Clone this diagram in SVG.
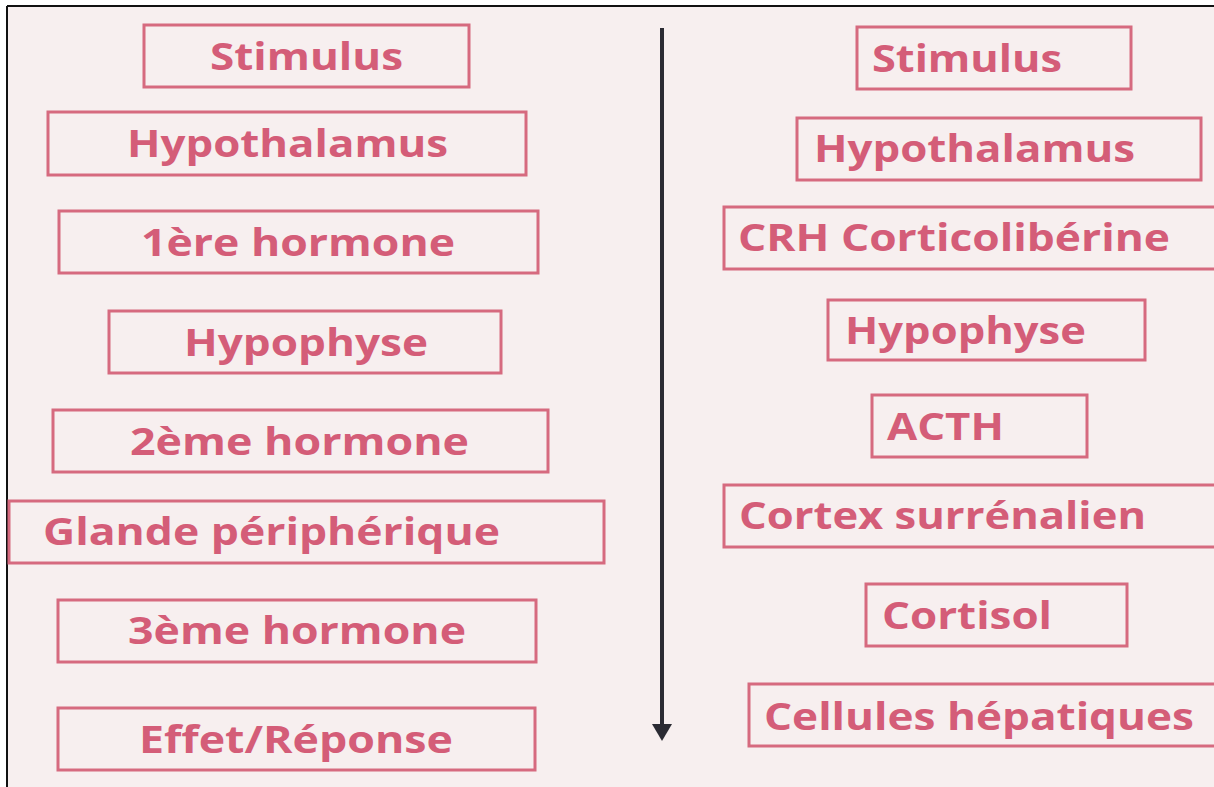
<svg xmlns="http://www.w3.org/2000/svg" width="1214" height="787" viewBox="0 0 1214 787">
<style>
.box{fill:none;stroke:#d66a7f;stroke-width:3}
.t{font-family:"Open Sans",Lato,"Liberation Sans",sans-serif;font-weight:700;font-size:37px;fill:#d45d78}
</style>
<rect x="0" y="0" width="1214" height="787" fill="#ffffff"/>
<rect x="7" y="6" width="1207" height="781" fill="#f7efef"/>
<line x1="7" y1="6" x2="7" y2="787" stroke="#111" stroke-width="2"/>
<line x1="7" y1="6" x2="1214" y2="6" stroke="#111" stroke-width="2"/>
<g id="connectors">
<line x1="662" y1="28" x2="662" y2="727" stroke="#2b2b33" stroke-width="4"/>
<polygon points="652,724 672,724 662,741" fill="#2b2b33"/>
</g>
<g id="l1"><rect class="box" x="144" y="25" width="325" height="62"/><text class="t" x="210" y="70" textLength="193" lengthAdjust="spacingAndGlyphs">Stimulus</text></g>
<g id="l2"><rect class="box" x="48" y="112" width="478" height="63"/><text class="t" x="127" y="157" textLength="321" lengthAdjust="spacingAndGlyphs">Hypothalamus</text></g>
<g id="l3"><rect class="box" x="59" y="211" width="479" height="62"/><text class="t" x="141" y="256" textLength="314" lengthAdjust="spacingAndGlyphs">1ère hormone</text></g>
<g id="l4"><rect class="box" x="109" y="311" width="392" height="62"/><text class="t" x="184" y="356" textLength="244" lengthAdjust="spacingAndGlyphs">Hypophyse</text></g>
<g id="l5"><rect class="box" x="53" y="410" width="495" height="62"/><text class="t" x="130" y="455" textLength="339" lengthAdjust="spacingAndGlyphs">2ème hormone</text></g>
<g id="l6"><rect class="box" x="9" y="501" width="595" height="62"/><text class="t" x="43" y="545" textLength="457" lengthAdjust="spacingAndGlyphs">Glande périphérique</text></g>
<g id="l7"><rect class="box" x="58" y="600" width="478" height="62"/><text class="t" x="128" y="644" textLength="338" lengthAdjust="spacingAndGlyphs">3ème hormone</text></g>
<g id="l8"><rect class="box" x="58" y="708" width="477" height="62"/><text class="t" x="139" y="753" textLength="314" lengthAdjust="spacingAndGlyphs">Effet/Réponse</text></g>
<g id="r1"><rect class="box" x="857" y="27" width="274" height="62"/><text class="t" x="872" y="72" textLength="190" lengthAdjust="spacingAndGlyphs">Stimulus</text></g>
<g id="r2"><rect class="box" x="797" y="118" width="404" height="62"/><text class="t" x="814" y="162" textLength="321" lengthAdjust="spacingAndGlyphs">Hypothalamus</text></g>
<g id="r3"><rect class="box" x="724" y="207" width="495" height="62"/><text class="t" x="738" y="251" textLength="432" lengthAdjust="spacingAndGlyphs">CRH Corticolibérine</text></g>
<g id="r4"><rect class="box" x="828" y="300" width="317" height="60"/><text class="t" x="845" y="344" textLength="241" lengthAdjust="spacingAndGlyphs">Hypophyse</text></g>
<g id="r5"><rect class="box" x="872" y="395" width="215" height="62"/><text class="t" x="887" y="440" textLength="117" lengthAdjust="spacingAndGlyphs">ACTH</text></g>
<g id="r6"><rect class="box" x="724" y="485" width="495" height="62"/><text class="t" x="739" y="529" textLength="407" lengthAdjust="spacingAndGlyphs">Cortex surrénalien</text></g>
<g id="r7"><rect class="box" x="866" y="584" width="261" height="62"/><text class="t" x="882" y="629" textLength="170" lengthAdjust="spacingAndGlyphs">Cortisol</text></g>
<g id="r8"><rect class="box" x="749" y="684" width="470" height="62"/><text class="t" x="764" y="730" textLength="430" lengthAdjust="spacingAndGlyphs">Cellules hépatiques</text></g>
</svg>
